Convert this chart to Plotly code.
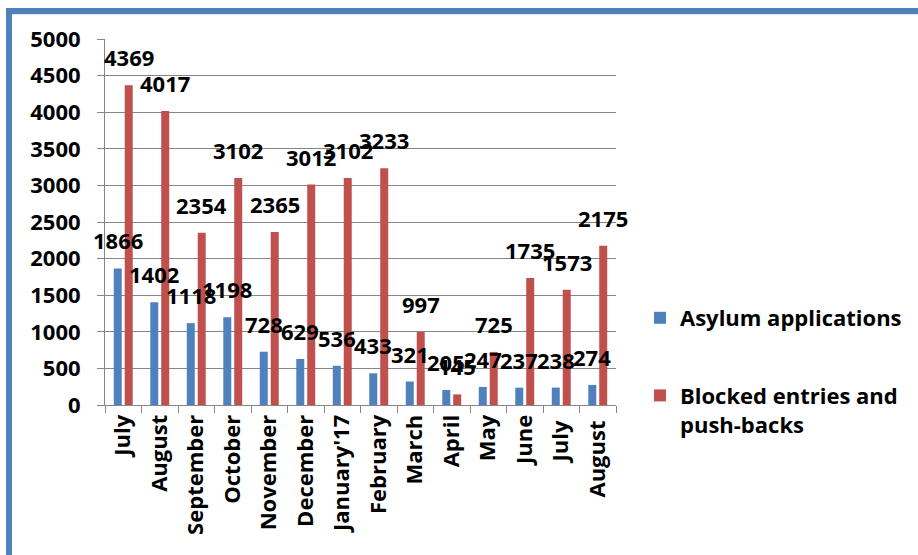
import plotly.graph_objects as go

months = ["July", "August", "September", "October", "November", "December",
          "January'17", "February", "March", "April", "May", "June", "July ", "August "]
asylum = [1866, 1402, 1118, 1198, 728, 629, 536, 433, 321, 205, 247, 237, 238, 274]
blocked = [4369, 4017, 2354, 3102, 2365, 3012, 3102, 3233, 997, 145, 725, 1735, 1573, 2175]
y_ticks = [0, 500, 1000, 1500, 2000, 2500, 3000, 3500, 4000, 4500, 5000]

BLUE = "#4F81BD"
RED = "#C0504D"
FONT = "Open Sans"
FS = 22
W, H = 918, 555
L, R, T, B = 105, 616, 39, 405

fig = go.Figure()
fig.add_trace(go.Bar(x=months, y=asylum, name="Asylum applications",
                     marker=dict(color=BLUE, line=dict(width=0)),
                     legendgroup="a"))
fig.add_trace(go.Bar(x=months, y=blocked, name="Blocked entries and<br>push-backs",
                     marker=dict(color=RED, line=dict(width=0)),
                     legendgroup="b"))

lab_font = dict(family=FONT, size=FS, color="black", weight="bold")
ann = []
for m, v in zip(months, asylum):
    ann.append(dict(x=m, y=v, xref="x", yref="y", text=str(v), showarrow=False,
                    xshift=-5.5, yshift=11, yanchor="bottom", font=lab_font))
for m, v in zip(months, blocked):
    ann.append(dict(x=m, y=v, xref="x", yref="y", text=str(v), showarrow=False,
                    xshift=5.5, yshift=11, yanchor="bottom", font=lab_font))

pw, ph = R - L, B - T
def px(x):
    return (x - L) / pw
def py(y):
    return (B - y) / ph

shapes = [
    dict(type="rect", xref="paper", yref="paper",
         x0=px(9), x1=px(940), y0=py(580), y1=py(11),
         line=dict(color="#4F81BD", width=6), fillcolor="rgba(0,0,0,0)", layer="above"),
    dict(type="line", xref="paper", yref="paper",
         x0=px(12), x1=px(940), y0=py(14.5), y1=py(14.5),
         line=dict(color="#DCE6F2", width=1)),
]

fig.update_layout(
    width=W, height=H,
    margin=dict(l=L, r=W - R, t=T, b=H - B, pad=0, autoexpand=False),
    paper_bgcolor="white", plot_bgcolor="white",
    barmode="group", bargap=0.4, bargroupgap=0.27,
    font=lab_font,
    showlegend=True,
    legend=dict(xref="container", yref="container",
                x=640 / W, y=1 - 297 / H, xanchor="left", yanchor="top",
                traceorder="grouped", tracegroupgap=46, valign="top",
                itemwidth=30, font=lab_font,
                bgcolor="rgba(0,0,0,0)"),
    annotations=ann,
    shapes=shapes,
    xaxis=dict(type="category", range=[-0.5, len(months) - 0.5],
               tickangle=-90, showgrid=False, automargin=False,
               showline=True, linecolor="#868686", linewidth=1,
               ticks="outside", ticklen=7, tickcolor="#868686",
               tickson="boundaries", tickfont=lab_font),
    yaxis=dict(range=[0, 5000], tickvals=y_ticks, showgrid=True, automargin=False,
               gridcolor="#868686", gridwidth=1,
               showline=True, linecolor="#868686", linewidth=1,
               ticks="outside", ticklen=7, tickcolor="#868686",
               ticklabelstandoff=12, zeroline=False, tickfont=lab_font),
)

fig.write_html("out.html")
